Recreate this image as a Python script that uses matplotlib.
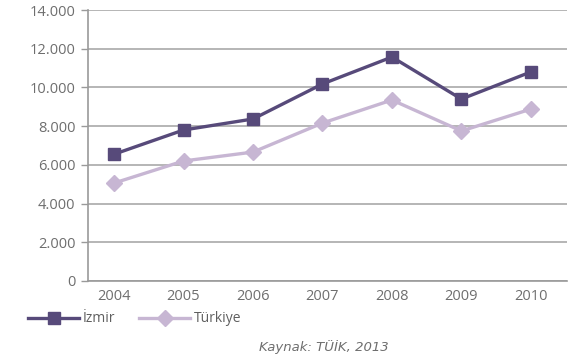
import matplotlib
matplotlib.use("Agg")
import matplotlib.pyplot as plt
from matplotlib.ticker import FuncFormatter

years = ["2004", "2005", "2006", "2007", "2008", "2009", "2010"]
izmir = [6550, 7800, 8370, 10180, 11570, 9400, 10800]
turkiye = [5060, 6200, 6660, 8160, 9350, 7750, 8880]
yticks = [0, 2000, 4000, 6000, 8000, 10000, 12000, 14000]

dark = "#574A7A"
light = "#C7B6D3"
grey = "#6E6E6E"

plt.rcParams['font.family'] = ['Open Sans', 'DejaVu Sans']

fig = plt.figure(figsize=(5.73, 3.58), dpi=100)
ax = fig.add_axes([88/573, 77/358, (567-88)/573, (281-10)/358])

x = list(range(len(years)))
ax.plot(x, izmir, color=dark, lw=2.4, marker="s", ms=8, label="İzmir", zorder=4)
ax.plot(x, turkiye, color=light, lw=2.4, marker="D", ms=8, label="Türkiye", zorder=3)

ax.set_xlim(-0.375, 6.52)
ax.set_ylim(0, 14000)
ax.set_yticks(yticks)
ax.yaxis.set_major_formatter(FuncFormatter(lambda v, p: f"{int(v):,}".replace(",", ".")))
ax.set_xticks(x)
ax.set_xticklabels(years)
ax.grid(axis="y", color="#B0B0B0", lw=1.3, zorder=0)
ax.set_axisbelow(True)
for s in ["top", "right"]:
    ax.spines[s].set_visible(False)
ax.spines["left"].set_color("#9A9A9A")
ax.spines["bottom"].set_color("#9A9A9A")
ax.spines["left"].set_linewidth(1.2)
ax.spines["bottom"].set_linewidth(1.2)
ax.tick_params(axis="y", colors="#9A9A9A", labelcolor=grey, labelsize=10.5, length=5, width=1, pad=4)
ax.tick_params(axis="x", length=0, labelcolor=grey, labelsize=10.5, pad=6)

leg = fig.legend(loc="center left", bbox_to_anchor=(28/573, (358-319)/358), ncol=2, frameon=False,
                 fontsize=10, labelcolor="#5F5F5F", handlelength=3.7, columnspacing=1.7,
                 handletextpad=0.25, borderaxespad=0, borderpad=0)

fig.text(324/573, (358-347)/358, "Kaynak: TÜİK, 2013", ha="center", va="center",
         fontsize=9.5, style="italic", color=grey, family="DejaVu Sans")

fig.savefig("out.png", dpi=100)
